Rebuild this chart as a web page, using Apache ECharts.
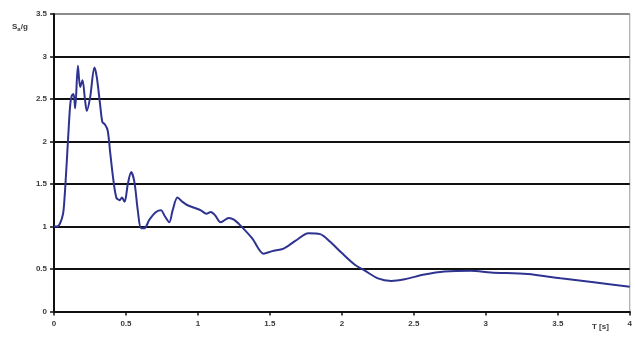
<!DOCTYPE html>
<html>
<head>
<meta charset="utf-8">
<script src="https://cdn.jsdelivr.net/npm/echarts@6/dist/echarts.min.js"></script>
<style>
html,body{margin:0;padding:0;background:#fff;}
#c{width:635px;height:339px;}
</style>
</head>
<body>
<div id="c"></div>
<script>
const periods = [0,0.02,0.04,0.063,0.075,0.083,0.09,0.097,0.113,0.124,0.136,0.147,0.166,0.182,0.198,0.216,0.228,0.251,0.281,0.297,0.32,0.336,0.354,0.373,0.391,0.41,0.433,0.456,0.472,0.49,0.513,0.536,0.559,0.582,0.605,0.628,0.663,0.709,0.744,0.767,0.801,0.824,0.858,0.893,0.928,0.974,1.02,1.059,1.089,1.12,1.158,1.215,1.25,1.296,1.377,1.457,1.515,1.595,1.676,1.768,1.849,1.918,1.998,2.09,2.16,2.25,2.343,2.436,2.574,2.712,2.896,3.034,3.29,3.52,3.75,4.0];
const saOverG = [1.0,1.0,1.03,1.15,1.38,1.6,1.8,2.01,2.44,2.54,2.56,2.39,2.89,2.64,2.72,2.48,2.36,2.52,2.87,2.76,2.44,2.23,2.2,2.13,1.86,1.58,1.34,1.31,1.34,1.29,1.5,1.64,1.52,1.19,0.98,0.98,1.08,1.17,1.19,1.13,1.05,1.19,1.34,1.29,1.25,1.22,1.19,1.15,1.17,1.13,1.05,1.10,1.08,1.01,0.86,0.68,0.71,0.74,0.83,0.92,0.91,0.82,0.69,0.55,0.48,0.39,0.36,0.38,0.435,0.47,0.48,0.46,0.44,0.39,0.345,0.29];
const xTicks = {min:0, max:4, interval:0.5};
const yTicks = {min:0, max:3.5, interval:0.5};
const xName = 'T [s]';

const chart = echarts.init(document.getElementById('c'), null, {renderer:'canvas'});
const lblStyle = {fontFamily:'Liberation Sans, Arial, sans-serif', fontSize:8, color:'#3a3a3a', fontWeight:'bold'};
chart.setOption({
  animation:false,
  grid:{left:54, right:2, top:14, bottom:27.5, show:true, borderColor:'#999', borderWidth:1, backgroundColor:'transparent'},
  xAxis:{
    type:'value', min:xTicks.min, max:xTicks.max, interval:xTicks.interval,
    axisLine:{show:true, onZero:false, lineStyle:{color:'#111', width:2}},
    axisTick:{show:true, length:4, lineStyle:{color:'#111', width:1.5}},
    axisLabel:Object.assign({margin:8, formatter:v=>String(v)}, lblStyle),
    splitLine:{show:false}
  },
  yAxis:{
    type:'value', min:yTicks.min, max:yTicks.max, interval:yTicks.interval,
    axisLine:{show:true, lineStyle:{color:'#111', width:2}},
    axisTick:{show:true, length:4, lineStyle:{color:'#111', width:1.5}},
    axisLabel:Object.assign({margin:7, formatter:v=>String(v)}, lblStyle),
    splitLine:{show:true, lineStyle:{color:['#111','#111','#111','#111','#111','#111','#111','#8a8a8a'], width:2}}
  },
  graphic:[
    {type:'text', left:12, top:23, style:{
      text:'{b|S}{s|a}{b|/g}',
      rich:{
        b:{fontFamily:'Liberation Sans, Arial, sans-serif', fontSize:8, fontWeight:'bold', fill:'#3a3a3a'},
        s:{fontFamily:'Liberation Sans, Arial, sans-serif', fontSize:6, fontWeight:'bold', fill:'#3a3a3a', padding:[4,0,0,0]}
      }
    }},
    {type:'text', left:592, top:323, style:{text:xName, fontFamily:'Liberation Sans, Arial, sans-serif', fontSize:8, fontWeight:'bold', fill:'#3a3a3a'}}
  ],
  series:[{
    type:'line',
    data:periods.map((t,i)=>[t, saOverG[i]]),
    showSymbol:false, symbol:'none',
    smooth:0.3,
    lineStyle:{color:'#2e3390', width:2},
    z:5
  }]
});
</script>
</body>
</html>
